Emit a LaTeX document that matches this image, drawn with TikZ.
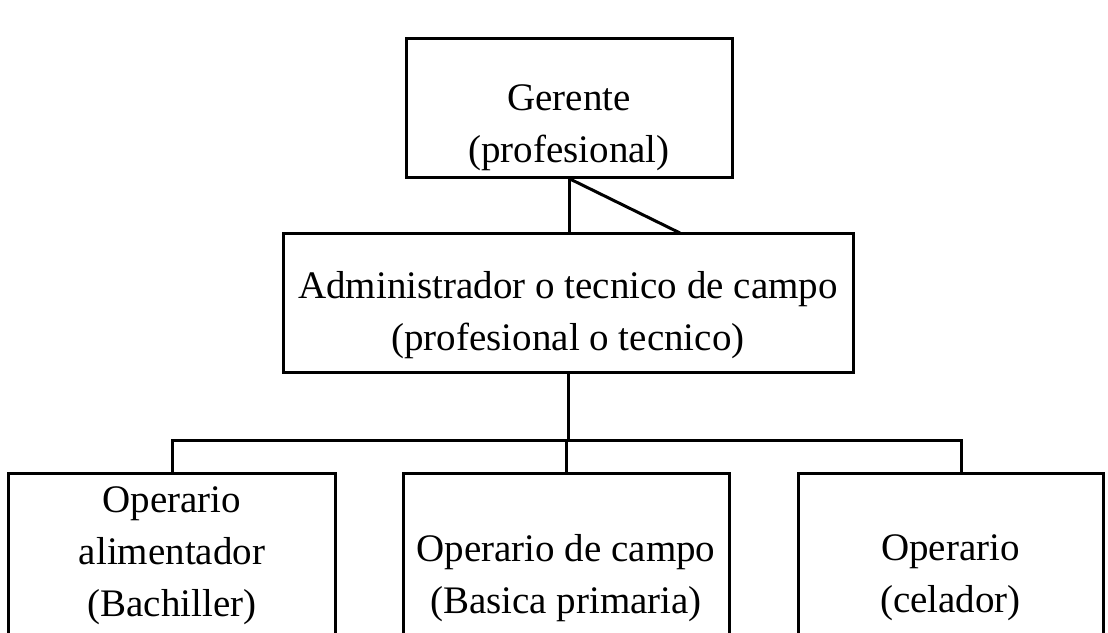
\documentclass[tikz,border=0pt]{standalone}
\usepackage{fontspec}
\setmainfont{Liberation Serif}
\begin{document}
\begin{tikzpicture}[x=1pt,y=-1pt,
  box/.style={draw, line width=3pt, rectangle, inner sep=0pt},
  txt/.style={align=center, inner sep=0pt, font=\fontsize{39}{52}\selectfont},
  conn/.style={line width=3pt}]
\useasboundingbox (0,0) rectangle (1108,632);
\clip (0,0) rectangle (1108,632);
% boxes
\node[box, minimum width=326pt, minimum height=139pt] (g) at (569,107.5) {};
\node[box, minimum width=570pt, minimum height=139pt] (a) at (568,302.5) {};
\node[box, minimum width=327pt, minimum height=227pt] (o1) at (172,587) {};
\node[box, minimum width=326pt, minimum height=227pt] (o2) at (566,587) {};
\node[box, minimum width=305pt, minimum height=227pt] (o3) at (950.5,587) {};
% texts
\node[txt] (tg) at (569,128) {Gerente\\(profesional)};
\node[txt] (ta) at (568,315) {Administrador o tecnico de campo\\(profesional o tecnico)};
\node[txt] (t1) at (172,556) {Operario\\alimentador\\(Bachiller)};
\node[txt] (t2) at (566,578) {Operario de campo\\(Basica primaria)};
\node[txt] (t3) at (950.5,578) {Operario\\(celador)};
% connectors
\coordinate (gd) at (680,233);
\coordinate (bus) at (568,440);
\coordinate (d3) at (961,473);
\draw[conn] (g.south) -- (g.south |- a.north);
\draw[conn] (g.south) -- (gd);
\draw[conn] (a.south) -- (a.south |- bus);
\draw[conn] (o1.north) -- (o1.north |- bus) -- (d3 |- bus) -- (d3);
\draw[conn] (o2.north) -- (o2.north |- bus);
\end{tikzpicture}
\end{document}
